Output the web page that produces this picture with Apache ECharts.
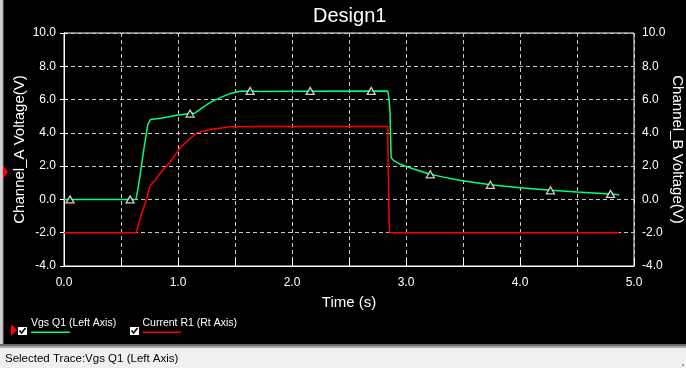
<!DOCTYPE html>
<html>
<head>
<meta charset="utf-8">
<script src="https://cdn.jsdelivr.net/npm/echarts@6/dist/echarts.min.js"></script>
<style>
html,body{margin:0;padding:0;background:#000;}
#chart{width:686px;height:368px;}
</style>
</head>
<body>
<div id="chart"></div>
<script>
// ---- data ----
var chartTitle = 'Design1';
var xAxisName = 'Time (s)';
var leftAxisName = 'Channel_A Voltage(V)';
var rightAxisName = 'Channel_B Voltage(V)';
var seriesNames = ['Vgs Q1 (Left Axis)', 'Current R1 (Rt Axis)'];
var statusText = 'Selected Trace:Vgs Q1 (Left Axis)';

var vgsTime  = [0, 0.632, 0.66, 0.70, 0.735, 0.758, 0.85, 0.99, 1.106, 1.15, 1.19, 1.28, 1.37, 1.46, 1.545, 1.63, 1.72, 2.0, 2.84, 2.85, 2.86, 2.865, 2.87, 2.89, 2.95, 3.04, 3.21, 3.33, 3.48, 3.74, 4.0, 4.27, 4.5, 4.79, 4.87];
var vgsValue = [0, 0, 1.1, 3.0, 4.5, 4.8, 4.88, 5.06, 5.16, 5.2, 5.4, 5.82, 6.12, 6.37, 6.5, 6.52, 6.48, 6.5, 6.52, 6.07, 5.26, 3.66, 2.51, 2.35, 2.11, 1.89, 1.51, 1.34, 1.14, 0.88, 0.7, 0.55, 0.45, 0.33, 0.28];

var markerTime  = [0.053, 0.58, 1.106, 1.633, 2.16, 2.695, 3.213, 3.74, 4.267, 4.794];
var markerValue = [0, 0, 5.16, 6.52, 6.52, 6.52, 1.51, 0.88, 0.55, 0.33];

var curTime  = [0, 0.632, 0.68, 0.726, 0.755, 0.80, 0.84, 0.93, 1.02, 1.106, 1.165, 1.28, 1.46, 1.72, 2.84, 2.842, 2.85, 2.855, 4.87];
var curValue = [-2, -2, -0.86, 0.04, 0.84, 1.14, 1.55, 2.25, 3.11, 3.66, 4.0, 4.2, 4.36, 4.38, 4.38, 2.85, -0.46, -2.0, -2.0];

var xMin = 0, xMax = 5, xGridStep = 0.5, xLabelStep = 1;
var yMin = -4, yMax = 10, yStep = 2;

function zip(a, b) { return a.map(function (v, i) { return [v, b[i]]; }); }

var FONT = '"Liberation Sans", Arial, sans-serif';
var green = '#00ff80';
var red = '#ff0000';

var chart = echarts.init(document.getElementById('chart'), null, {renderer: 'canvas'});

var yAxisCommon = {
  type: 'value', min: yMin, max: yMax, interval: yStep,
  axisLine: {show: true, lineStyle: {color: '#fff', width: 1}},
  axisTick: {show: true, inside: true, length: 4, lineStyle: {color: '#fff'}},
  axisLabel: {color: '#fff', fontSize: 12, fontFamily: FONT, margin: 8,
    formatter: function (v) { return v.toFixed(1); }},
  nameLocation: 'middle',
  nameMoveOverlap: false,
  nameTextStyle: {color: '#fff', fontSize: 15, fontFamily: FONT}
};

var option = {
  backgroundColor: '#000',
  animation: false,
  title: {
    text: chartTitle, left: 308, top: 1,
    textStyle: {color: '#fff', fontSize: 20, fontWeight: 'normal', fontFamily: FONT}
  },
  grid: {left: 64, right: 52, top: 33, bottom: 102, show: true,
    outerBoundsMode: 'none', containLabel: false,
    borderColor: '#fff', borderWidth: 1, backgroundColor: 'transparent'},
  xAxis: [{
    type: 'value', min: xMin, max: xMax, interval: xGridStep,
    name: xAxisName, nameLocation: 'middle', nameGap: 29, nameMoveOverlap: false,
    nameTextStyle: {color: '#fff', fontSize: 15, fontFamily: FONT},
    axisLine: {show: true, onZero: false, lineStyle: {color: '#fff'}},
    axisTick: {show: true, inside: true, length: 8, lineStyle: {color: '#fff'}},
    axisLabel: {color: '#fff', fontSize: 12, fontFamily: FONT, margin: 11,
      formatter: function (v) {
        return (Math.abs(v / xLabelStep - Math.round(v / xLabelStep)) < 1e-6) ? v.toFixed(1) : '';
      }},
    splitLine: {show: true, lineStyle: {color: '#c8c8c8', type: [4, 3], width: 1}}
  }, {
    type: 'value', min: xMin, max: xMax, interval: xLabelStep, position: 'bottom',
    axisLine: {show: false},
    axisTick: {show: true, inside: false, length: 4, lineStyle: {color: '#fff'}},
    axisLabel: {show: false},
    splitLine: {show: false}
  }],
  yAxis: [
    Object.assign({}, yAxisCommon, {
      position: 'left', name: leftAxisName, nameRotate: 90, nameGap: 37,
      splitLine: {show: true, lineStyle: {color: '#c8c8c8', type: [4, 3], width: 1}}
    }),
    Object.assign({}, yAxisCommon, {
      position: 'right', name: rightAxisName, nameRotate: -90, nameGap: 36,
      splitLine: {show: false}
    })
  ],
  series: [
    {
      name: seriesNames[1], type: 'line', xAxisIndex: 0, yAxisIndex: 1,
      data: zip(curTime, curValue), showSymbol: false, symbol: 'none',
      lineStyle: {color: red, width: 1.5}, z: 3
    },
    {
      name: seriesNames[0], type: 'line', xAxisIndex: 0, yAxisIndex: 0,
      data: zip(vgsTime, vgsValue), showSymbol: false, symbol: 'none',
      lineStyle: {color: green, width: 1.5}, z: 4
    },
    {
      name: seriesNames[0] + ' markers', type: 'scatter', xAxisIndex: 0, yAxisIndex: 0,
      data: zip(markerTime, markerValue), symbol: 'triangle', symbolSize: [8, 7],
      itemStyle: {color: '#000', borderColor: '#fff', borderWidth: 1.3}, z: 5
    }
  ],
  graphic: [
    // left window edge
    {type: 'rect', shape: {x: 0, y: 0, width: 3, height: 344}, style: {fill: '#d0d0d0'}, silent: true},
    {type: 'rect', shape: {x: 2.5, y: 0, width: 1, height: 344}, style: {fill: '#9a9a9a'}, silent: true},
    // selected-trace indicator
    {type: 'polygon', shape: {points: [[3, 165], [8, 172], [3, 179]]}, style: {fill: red}, silent: true},
    // bottom status bar
    {type: 'rect', shape: {x: 0, y: 344, width: 686, height: 2}, style: {fill: '#6a6a6a'}, silent: true},
    {type: 'rect', shape: {x: 0, y: 346, width: 686, height: 2}, style: {fill: '#a8a8a8'}, silent: true},
    {type: 'rect', shape: {x: 0, y: 348, width: 686, height: 20}, style: {fill: '#f0f0f0'}, silent: true},
    {type: 'text', x: 5, y: 359, style: {text: statusText, fill: '#000', font: '11.5px ' + FONT, textVerticalAlign: 'middle'}, silent: true},
    // legend: selection marker
    {type: 'polygon', shape: {points: [[11, 324], [17, 330], [11, 336]]}, style: {fill: red}, silent: true},
    // legend item 1
    {type: 'rect', shape: {x: 18, y: 327, width: 9, height: 8}, style: {fill: '#fff'}, silent: true},
    {type: 'polyline', shape: {points: [[19.5, 330.5], [21.5, 333], [25.5, 328]]}, style: {stroke: '#000', lineWidth: 1.6, fill: null}, silent: true},
    {type: 'text', x: 31, y: 323, style: {text: seriesNames[0], fill: '#fff', font: '10.5px ' + FONT, textVerticalAlign: 'middle'}, silent: true},
    {type: 'rect', shape: {x: 31, y: 331.5, width: 39, height: 1.5}, style: {fill: green}, silent: true},
    // legend item 2
    {type: 'rect', shape: {x: 130, y: 327, width: 9, height: 8}, style: {fill: '#fff'}, silent: true},
    {type: 'polyline', shape: {points: [[131.5, 330.5], [133.5, 333], [137.5, 328]]}, style: {stroke: '#000', lineWidth: 1.6, fill: null}, silent: true},
    {type: 'text', x: 142.5, y: 323, style: {text: seriesNames[1], fill: '#fff', font: '10.5px ' + FONT, textVerticalAlign: 'middle'}, silent: true},
    {type: 'rect', shape: {x: 142.5, y: 331.5, width: 38.5, height: 1.5}, style: {fill: red}, silent: true},
    // resize grip
    {type: 'rect', shape: {x: 682, y: 364, width: 2, height: 2}, style: {fill: '#a0a0a0'}, silent: true}
  ]
};
chart.setOption(option);
</script>
</body>
</html>
